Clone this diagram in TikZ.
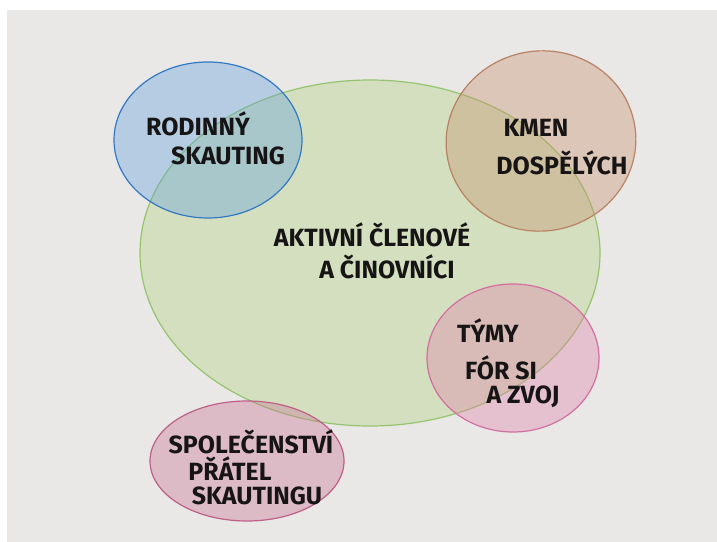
\documentclass[tikz,border=0pt]{standalone}
\usepackage{fontspec}
\setmainfont{Fira Sans}
\usetikzlibrary{shapes.geometric}
\definecolor{paper}{RGB}{233,232,230}
\definecolor{gfill}{RGB}{176,210,130}
\definecolor{gline}{RGB}{150,196,110}
\definecolor{bfill}{RGB}{100,160,220}
\definecolor{bline}{RGB}{50,120,195}
\definecolor{brfill}{RGB}{200,145,110}
\definecolor{brline}{RGB}{185,130,100}
\definecolor{pfill}{RGB}{225,130,170}
\definecolor{pline}{RGB}{210,110,160}
\definecolor{sfill}{RGB}{200,115,150}
\definecolor{sline}{RGB}{190,95,135}
\definecolor{ink}{RGB}{22,20,20}
\tikzset{
  blob/.style={ellipse, inner sep=0pt, line width=1.2pt, fill opacity=0.38},
  lbl/.style={text=ink, font=\fontsize{25}{27}\selectfont\bfseries, inner sep=0pt, anchor=center}
}
\begin{document}
\begin{tikzpicture}[x=1bp,y=-1bp]
\useasboundingbox (0,0) rectangle (717,542);
\fill[white] (0,0) rectangle (717,542);
\fill[paper] (7,10) rectangle (717,542);
% circles
\node[blob, draw=gline, fill=gfill, minimum width=460bp, minimum height=346bp] (aktivni) at (370,253) {};
\node[blob, draw=bline, fill=bfill, minimum width=188bp, minimum height=156bp] (rodinny) at (208,140) {};
\node[blob, draw=brline, fill=brfill, minimum width=190bp, minimum height=180bp, rotate=10] (kmen) at (541,141) {};
\node[blob, draw=pline, fill=pfill, minimum width=172bp, minimum height=148bp] (tymy) at (513,358) {};
\node[blob, draw=sline, fill=sfill, minimum width=194bp, minimum height=120bp] (spol) at (247,461) {};
% labels
\node[lbl] (t1a) at (198,124) {RODINNÝ};
\node[lbl] (t1b) at (228,156) {SKAUTING};
\node[lbl] (t2a) at (536,128) {KMEN};
\node[lbl] (t2b) at (562,163) {DOSPĚLÝCH};
\node[lbl] (t3a) at (372,235) {AKTIVNÍ ČLENOVÉ};
\node[lbl] (t3b) at (387,267) {A ČINOVNÍCI};
\node[lbl] (t4a) at (488,331) {TÝMY};
\node[lbl] (t4b) at (501,368) {FÓR SI};
\node[lbl] (t4c) at (523,397) {A ZVOJ};
\node[lbl] (t5a) at (251,442) {SPOLEČENSTVÍ};
\node[lbl] (t5b) at (230,469) {PŘÁTEL};
\node[lbl] (t5c) at (257,496) {SKAUTINGU};
\end{tikzpicture}
\end{document}
